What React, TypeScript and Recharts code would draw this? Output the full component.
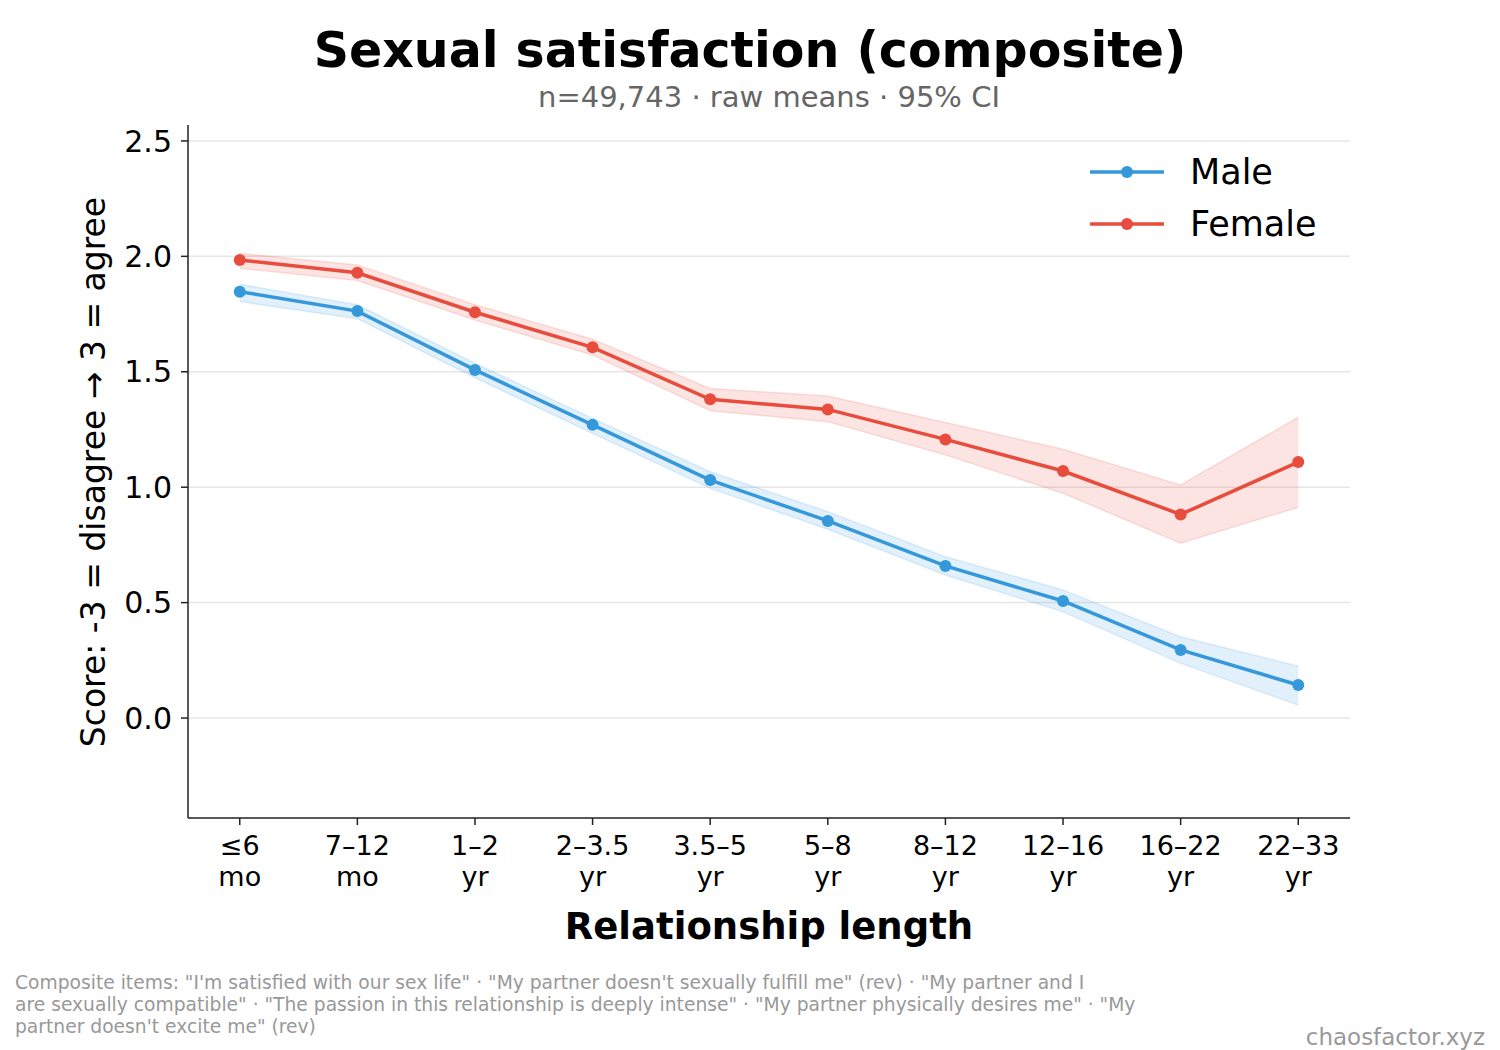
import React from 'react';
import { ComposedChart, Line, Area, XAxis, YAxis, CartesianGrid } from 'recharts';

const categoriesTop = ['≤6', '7–12', '1–2', '2–3.5', '3.5–5', '5–8', '8–12', '12–16', '16–22', '22–33'];
const categoriesBottom = ['mo', 'mo', 'yr', 'yr', 'yr', 'yr', 'yr', 'yr', 'yr', 'yr'];

const maleMean = [1.847, 1.763, 1.508, 1.27, 1.031, 0.854, 0.659, 0.507, 0.295, 0.143];
const maleLow = [1.804, 1.73, 1.474, 1.233, 0.995, 0.818, 0.62, 0.46, 0.237, 0.056];
const maleHigh = [1.879, 1.79, 1.537, 1.298, 1.067, 0.894, 0.699, 0.555, 0.352, 0.225];

const femaleMean = [1.984, 1.929, 1.758, 1.606, 1.381, 1.337, 1.207, 1.07, 0.882, 1.109];
const femaleLow = [1.948, 1.895, 1.724, 1.573, 1.331, 1.284, 1.14, 0.974, 0.757, 0.913];
const femaleHigh = [2.013, 1.963, 1.79, 1.641, 1.428, 1.395, 1.28, 1.164, 1.01, 1.303];

const yTicks = [0, 0.5, 1, 1.5, 2, 2.5];

const BLUE = '#3498db';
const RED = '#e74c3c';
const FONT = '"DejaVu Sans", sans-serif';

const data = categoriesTop.map((c, i) => ({
  idx: i,
  male: maleMean[i],
  female: femaleMean[i],
  maleBand: [maleLow[i], maleHigh[i]],
  femaleBand: [femaleLow[i], femaleHigh[i]],
}));

const XTick = ({ x, y, payload }: any) => {
  const i = payload.value;
  return (
    <text x={x} y={y} textAnchor="middle" fontSize={27} fill="#000" fontFamily={FONT}>
      <tspan x={x} dy={28}>{categoriesTop[i]}</tspan>
      <tspan x={x} dy={31}>{categoriesBottom[i]}</tspan>
    </text>
  );
};

const LegendItem = ({ color, label, top }: { color: string; label: string; top: number }) => (
  <div style={{ position: 'absolute', left: 1088, top, height: 40, display: 'flex', alignItems: 'center' }}>
    <svg width={78} height={20}>
      <line x1={2} y1={10} x2={76} y2={10} stroke={color} strokeWidth={3.5} />
      <circle cx={39} cy={10} r={6} fill={color} />
    </svg>
    <span style={{ marginLeft: 24, fontSize: 35, fontFamily: FONT, color: '#000' }}>{label}</span>
  </div>
);

const App: React.FC = () => {
  return (
    <div style={{ position: 'absolute', left: 0, top: 0, width: 1500, height: 1050, background: '#fff', fontFamily: FONT }}>
      <div style={{ position: 'absolute', left: 0, width: 1500, top: 26, textAlign: 'center', fontSize: 49, fontWeight: 'bold', color: '#000', lineHeight: '50px' }}>
        Sexual satisfaction (composite)
      </div>
      <div style={{ position: 'absolute', left: 0, width: 1538, top: 81, textAlign: 'center', fontSize: 29, color: '#666', lineHeight: '32px' }}>
        n=49,743 · raw means · 95% CI
      </div>

      <ComposedChart
        width={1500}
        height={1050}
        data={data}
        margin={{ top: 125, right: 150, bottom: 132, left: 108 }}
        style={{ position: 'absolute', left: 0, top: 0 }}
      >
        <CartesianGrid vertical={false} stroke="#e6e6e6" strokeWidth={1.5} horizontalValues={yTicks} />
        <XAxis
          type="number"
          dataKey="idx"
          domain={[-0.44, 9.44]}
          ticks={[0, 1, 2, 3, 4, 5, 6, 7, 8, 9]}
          tick={<XTick />}
          tickLine={{ stroke: '#222', strokeWidth: 1.5 }}
          tickSize={7}
          axisLine={{ stroke: '#222', strokeWidth: 1.5 }}
          height={100}
          interval={0}
        />
        <YAxis
          type="number"
          domain={[-0.433, 2.569]}
          ticks={yTicks}
          allowDataOverflow
          tickFormatter={(v: number) => v.toFixed(1)}
          tick={{ fontSize: 30, fill: '#000', fontFamily: FONT }}
          tickLine={{ stroke: '#222', strokeWidth: 1.5 }}
          tickSize={7}
          tickMargin={9}
          axisLine={{ stroke: '#222', strokeWidth: 1.5 }}
          width={80}
        />
        <Area
          type="linear"
          dataKey="maleBand"
          fill={BLUE}
          fillOpacity={0.15}
          stroke={BLUE}
          strokeOpacity={0.15}
          strokeWidth={1.5}
          isAnimationActive={false}
          activeDot={false}
        />
        <Area
          type="linear"
          dataKey="femaleBand"
          fill={RED}
          fillOpacity={0.15}
          stroke={RED}
          strokeOpacity={0.15}
          strokeWidth={1.5}
          isAnimationActive={false}
          activeDot={false}
        />
        <Line
          type="linear"
          dataKey="male"
          stroke={BLUE}
          strokeWidth={3.5}
          dot={{ r: 6, fill: BLUE, stroke: BLUE, strokeWidth: 0 }}
          isAnimationActive={false}
          activeDot={false}
        />
        <Line
          type="linear"
          dataKey="female"
          stroke={RED}
          strokeWidth={3.5}
          dot={{ r: 6, fill: RED, stroke: RED, strokeWidth: 0 }}
          isAnimationActive={false}
          activeDot={false}
        />
      </ComposedChart>

      <div
        style={{
          position: 'absolute',
          left: 93,
          top: 472,
          transform: 'translate(-50%, -50%) rotate(-90deg)',
          whiteSpace: 'nowrap',
          fontSize: 33,
          color: '#000',
        }}
      >
        Score: -3 = disagree → 3 = agree
      </div>

      <div style={{ position: 'absolute', left: 0, width: 1538, top: 904, textAlign: 'center', fontSize: 37, fontWeight: 'bold', color: '#000', lineHeight: '46px' }}>
        Relationship length
      </div>

      <LegendItem color={BLUE} label="Male" top={152} />
      <LegendItem color={RED} label="Female" top={204} />

      <div style={{ position: 'absolute', left: 15, top: 972, width: 1180, fontSize: 18.7, color: '#999', lineHeight: '22px' }}>
        Composite items: "I'm satisfied with our sex life" · "My partner doesn't sexually fulfill me" (rev) · "My partner and I<br />
        are sexually compatible" · "The passion in this relationship is deeply intense" · "My partner physically desires me" · "My<br />
        partner doesn't excite me" (rev)
      </div>
      <div style={{ position: 'absolute', right: 15, top: 1023, fontSize: 23, color: '#999', lineHeight: '28px' }}>
        chaosfactor.xyz
      </div>
    </div>
  );
};

export default App;
